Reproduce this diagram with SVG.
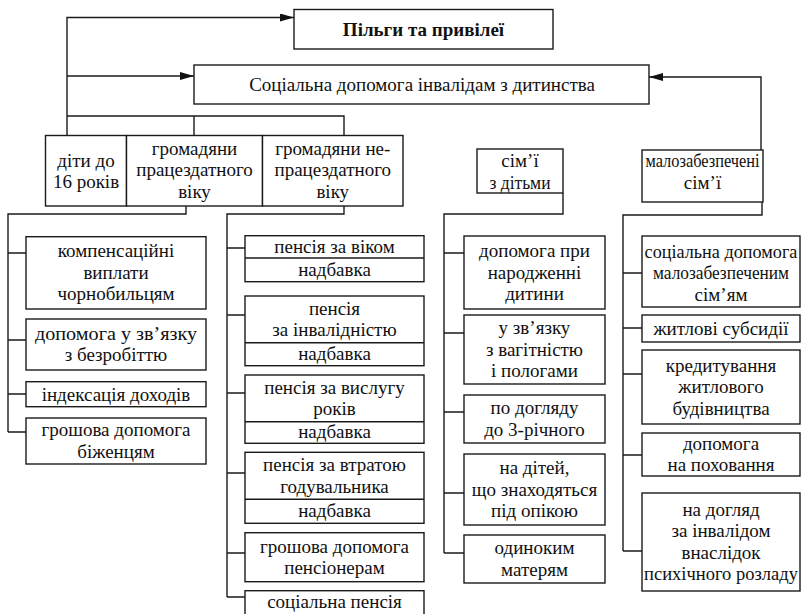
<svg xmlns="http://www.w3.org/2000/svg" width="801" height="614" viewBox="0 0 801 614">
  <defs>
    <marker id="arrow" viewBox="0 0 14 8" refX="14" refY="4" markerWidth="14" markerHeight="8" markerUnits="userSpaceOnUse" orient="auto">
      <path d="M0,0 L14,4 L0,8 Z" fill="#111"/>
    </marker>
    <style>
      .box { fill: #fff; stroke: #1a1a1a; stroke-width: 1.4; }
      .div { stroke: #1a1a1a; stroke-width: 1.4; fill: none; }
      .wire { stroke: #1a1a1a; stroke-width: 1.4; fill: none; }
      text { font-size: 19px; fill: #111; text-anchor: middle; }
      .bold { font-weight: bold; }
      .tight { font-size: 18.2px; }
    </style>
  </defs>

  <rect width="801" height="614" fill="#fff"/>

  <!-- connectors -->
  <g id="connectors">
    <!-- left spine feeding the two top boxes -->
    <path class="wire" d="M67,135.5 V17.5 H294" marker-end="url(#arrow)"/>
    <path class="wire" d="M67,76 H194" marker-end="url(#arrow)"/>
    <path class="wire" d="M67,116 H344 V135.5"/>
    <path class="wire" d="M194,116 V135.5"/>
    <!-- low-income families back to the top row -->
    <path class="wire" d="M761,150 V77 H649" marker-end="url(#arrow)"/>

    <!-- column 1 -->
    <path class="wire" d="M186,206 V214 H8 V432"/>
    <path class="wire" d="M8,253 H26 M8,340 H26 M8,394 H26 M8,432 H26"/>

    <!-- column 2 -->
    <path class="wire" d="M344,206 V214 H227 V597"/>
    <path class="wire" d="M227,248 H245 M227,315 H245 M227,393 H245 M227,473 H245 M227,553 H245 M227,597 H245"/>

    <!-- column 3 -->
    <path class="wire" d="M563,193 V214 H444 V553"/>
    <path class="wire" d="M444,253 H464 M444,333 H464 M444,412 H464 M444,493 H464 M444,553 H464"/>

    <!-- column 4 -->
    <path class="wire" d="M762,202 V215 H623 V551"/>
    <path class="wire" d="M623,273 H642 M623,328 H642 M623,374 H642 M623,455 H642 M623,551 H642"/>
  </g>

  <g font-family="'Liberation Serif', 'DejaVu Serif', serif">
  <!-- top -->
  <g id="privileges">
    <rect class="box" x="294" y="9.5" width="259" height="39.5"/>
    <text class="bold" x="423.5" y="36">Пільги та привілеї</text>
  </g>
  <g id="disabled-childhood">
    <rect class="box" x="194" y="65" width="455" height="39"/>
    <text x="422" y="90.5">Соціальна допомога інвалідам з дитинства</text>
  </g>

  <!-- category row -->
  <g id="children-16">
    <rect class="box" x="45.5" y="135.5" width="81" height="70.5"/>
    <text x="86" y="166.5">діти до</text>
    <text x="86" y="188">16 років</text>
  </g>
  <g id="working-age">
    <rect class="box" x="126.5" y="135.5" width="136" height="70.5"/>
    <text x="194.5" y="154.5">громадяни</text>
    <text x="194.5" y="176">працездатного</text>
    <text x="194.5" y="197.5">віку</text>
  </g>
  <g id="non-working-age">
    <rect class="box" x="262.5" y="135.5" width="140.5" height="70.5"/>
    <text x="332.75" y="154.5">громадяни не-</text>
    <text x="332.75" y="176">працездатного</text>
    <text x="332.75" y="197.5">віку</text>
  </g>
  <g id="families-children">
    <rect class="box" x="477" y="149" width="86" height="44"/>
    <text x="520" y="167">сім’ї</text>
    <text x="520" y="188.5" textLength="61" lengthAdjust="spacingAndGlyphs">з дітьми</text>
  </g>
  <g id="low-income">
    <rect class="box" x="642" y="150" width="121" height="52"/>
    <text x="702.5" y="167" textLength="114" lengthAdjust="spacingAndGlyphs">малозабезпечені</text>
    <text x="702.5" y="188.5">сім’ї</text>
  </g>

  <!-- column 1 -->
  <g id="chernobyl">
    <rect class="box" x="26" y="236.7" width="180" height="72.3"/>
    <text x="116" y="257.4">компенсаційні</text>
    <text x="116" y="278.9">виплати</text>
    <text x="116" y="300.4">чорнобильцям</text>
  </g>
  <g id="unemployment">
    <rect class="box" x="26" y="319" width="180" height="51"/>
    <text x="116" y="339.8" textLength="162" lengthAdjust="spacingAndGlyphs">допомога у зв’язку</text>
    <text x="116" y="361.3">з безробіттю</text>
  </g>
  <g id="indexation">
    <rect class="box" x="26" y="381.7" width="180" height="25"/>
    <text x="116" y="400.5">індексація доходів</text>
  </g>
  <g id="refugees">
    <rect class="box" x="26" y="418" width="180" height="46"/>
    <text x="116" y="436.3">грошова допомога</text>
    <text x="116" y="457.8">біженцям</text>
  </g>

  <!-- column 2 -->
  <g id="old-age-pension">
    <rect class="box" x="245" y="235.7" width="179" height="46"/>
    <line class="div" x1="245" y1="258" x2="424" y2="258"/>
    <text x="334.5" y="252.5">пенсія за віком</text>
    <text x="334.5" y="276">надбавка</text>
  </g>
  <g id="disability-pension">
    <rect class="box" x="245" y="296" width="179" height="69.7"/>
    <line class="div" x1="245" y1="342.7" x2="424" y2="342.7"/>
    <text x="334.5" y="314.6">пенсія</text>
    <text x="334.5" y="336.1">за інвалідністю</text>
    <text x="334.5" y="360">надбавка</text>
  </g>
  <g id="service-pension">
    <rect class="box" x="245" y="375" width="179" height="68.3"/>
    <line class="div" x1="245" y1="421.7" x2="424" y2="421.7"/>
    <text x="334.5" y="393.6">пенсія за вислугу</text>
    <text x="334.5" y="415.1">років</text>
    <text x="334.5" y="438">надбавка</text>
  </g>
  <g id="survivor-pension">
    <rect class="box" x="245" y="452.3" width="179" height="71"/>
    <line class="div" x1="245" y1="499.3" x2="424" y2="499.3"/>
    <text x="334.5" y="471">пенсія за втратою</text>
    <text x="334.5" y="492.5">годувальника</text>
    <text x="334.5" y="517">надбавка</text>
  </g>
  <g id="pensioner-aid">
    <rect class="box" x="245" y="532.7" width="179" height="49"/>
    <text x="334.5" y="552.5">грошова допомога</text>
    <text x="334.5" y="574">пенсіонерам</text>
  </g>
  <g id="social-pension">
    <rect class="box" x="245" y="590.7" width="179" height="35"/>
    <text x="334.5" y="608">соціальна пенсія</text>
  </g>

  <!-- column 3 -->
  <g id="birth-aid">
    <rect class="box" x="464" y="236" width="141" height="73"/>
    <text x="534.5" y="257">допомога при</text>
    <text x="534.5" y="278.5">народженні</text>
    <text x="534.5" y="300">дитини</text>
  </g>
  <g id="maternity">
    <rect class="box" x="464" y="315" width="141" height="69"/>
    <text x="534.5" y="334">у зв’язку</text>
    <text x="534.5" y="355.5">з вагітністю</text>
    <text x="534.5" y="377">і пологами</text>
  </g>
  <g id="childcare">
    <rect class="box" x="464" y="395" width="141" height="48"/>
    <text x="534.5" y="414.3">по догляду</text>
    <text x="534.5" y="435.8">до 3-річного</text>
  </g>
  <g id="guardianship">
    <rect class="box" x="464" y="454" width="141" height="71"/>
    <text x="534.5" y="474">на дітей,</text>
    <text x="534.5" y="495.5">що знаходяться</text>
    <text x="534.5" y="517">під опікою</text>
  </g>
  <g id="single-mothers">
    <rect class="box" x="464" y="535" width="141" height="48"/>
    <text x="534.5" y="554.3">одиноким</text>
    <text x="534.5" y="575.8">матерям</text>
  </g>

  <!-- column 4 -->
  <g id="low-income-aid">
    <rect class="box" x="642" y="236" width="158" height="71"/>
    <text class="tight" x="721" y="257.5">соціальна допомога</text>
    <text x="721" y="279" textLength="136" lengthAdjust="spacingAndGlyphs">малозабезпеченим</text>
    <text x="721" y="300.5">сім’ям</text>
  </g>
  <g id="housing-subsidy">
    <rect class="box" x="642" y="315" width="158" height="27"/>
    <text x="721" y="334.5">житлові субсидії</text>
  </g>
  <g id="housing-credit">
    <rect class="box" x="642" y="350" width="158" height="74"/>
    <text x="721" y="371.5">кредитування</text>
    <text x="721" y="393">житлового</text>
    <text x="721" y="414.5">будівництва</text>
  </g>
  <g id="funeral-aid">
    <rect class="box" x="642" y="433" width="158" height="43"/>
    <text x="721" y="449.8">допомога</text>
    <text x="721" y="471.3">на поховання</text>
  </g>
  <g id="mental-care">
    <rect class="box" x="642" y="493" width="158" height="98"/>
    <text x="721" y="515.8">на догляд</text>
    <text x="721" y="537.3">за інвалідом</text>
    <text x="721" y="558.8">внаслідок</text>
    <text x="721" y="580.3" textLength="154" lengthAdjust="spacingAndGlyphs">психічного розладу</text>
  </g>
  </g>
</svg>
